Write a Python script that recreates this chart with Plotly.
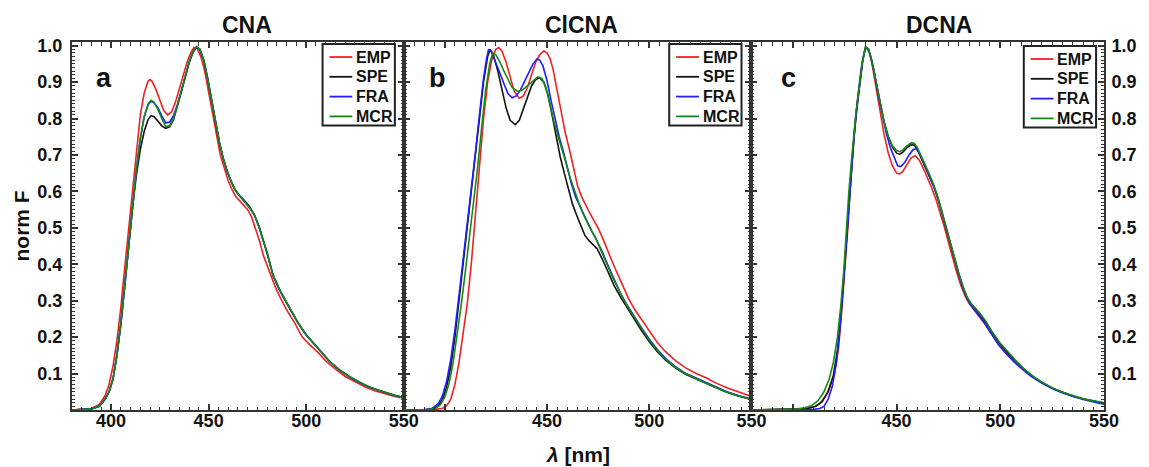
import plotly.graph_objects as go

# ---------------------------------------------------------------------------
# Normalised emission spectra (wavelength in nm, normalised fluorescence)
# ---------------------------------------------------------------------------
METHODS = ["EMP", "SPE", "FRA", "MCR"]
COLORS = {"EMP": "#ee2222", "SPE": "#111111", "FRA": "#1f1fff", "MCR": "#138a13"}
COMPOUNDS = ["CNA", "ClCNA", "DCNA"]
PANEL_LETTERS = ["a", "b", "c"]
X_TICKS = [400, 450, 500, 550]
Y_TICKS = [0.1, 0.2, 0.3, 0.4, 0.5, 0.6, 0.7, 0.8, 0.9, 1.0]

# --- CNA ---
cna_emp_wl = [380, 385, 390, 394, 397, 399, 401, 403, 405, 407, 409, 411, 413, 415, 417, 419, 420, 421, 423, 425,
              427, 429, 431, 433, 435, 437, 439, 441, 442.5, 444, 446, 448, 450, 452, 454, 456, 458, 460, 462, 464,
              466.3, 470, 472, 474, 476, 478, 481, 484, 487, 490, 494, 498, 502, 506, 510, 515, 520, 525, 530, 535,
              540, 545, 550]
cna_emp_f = [0.0, 0.001, 0.004, 0.015, 0.04, 0.07, 0.12, 0.19, 0.28, 0.39, 0.5, 0.61, 0.72, 0.81, 0.87, 0.903, 0.907,
             0.902, 0.88, 0.85, 0.822, 0.81, 0.818, 0.845, 0.88, 0.92, 0.955, 0.982, 0.995, 0.993, 0.97, 0.93, 0.87,
             0.81, 0.75, 0.7, 0.665, 0.63, 0.605, 0.585, 0.572, 0.55, 0.53, 0.5, 0.465, 0.425, 0.38, 0.34, 0.305,
             0.275, 0.24, 0.2, 0.178, 0.158, 0.135, 0.112, 0.092, 0.077, 0.064, 0.053, 0.045, 0.038, 0.032]

cna_spe_wl = [380, 385, 390, 394, 397, 399, 401, 403, 405, 407, 409, 411, 413, 415, 417, 419, 420.5, 422, 424, 426,
              428, 430, 432, 434, 436, 438, 440, 442, 443.8, 445.5, 447.5, 449.5, 451.5, 453.5, 455.5, 457.5, 459.5,
              461.5, 463.5, 465.5, 468, 471, 473.5, 476, 478, 480, 483, 486, 489, 492, 496, 500, 504, 508, 512, 517,
              522, 527, 532, 537, 542, 546, 550]
cna_spe_f = [0.0, 0.001, 0.003, 0.01, 0.03, 0.05, 0.085, 0.15, 0.235, 0.34, 0.45, 0.555, 0.645, 0.715, 0.765, 0.797,
             0.808, 0.805, 0.793, 0.78, 0.773, 0.777, 0.797, 0.832, 0.873, 0.913, 0.953, 0.982, 0.996, 0.99, 0.96,
             0.91, 0.85, 0.79, 0.735, 0.69, 0.655, 0.628, 0.605, 0.59, 0.577, 0.558, 0.535, 0.5, 0.465, 0.43, 0.37,
             0.333, 0.303, 0.274, 0.237, 0.206, 0.182, 0.159, 0.133, 0.11, 0.092, 0.077, 0.064, 0.054, 0.045,
             0.039, 0.034]

cna_fra_wl = [380, 385, 390, 394, 397, 399, 401, 403, 405, 407, 409, 411, 413, 415, 417, 419, 420.5, 422, 424, 426,
              428, 430, 432, 434, 436, 438, 440, 442, 443.8, 445.5, 447.5, 449.5, 451.5, 453.5, 455.5, 457.5, 459.5,
              461.5, 463.5, 465.5, 468, 471, 473.5, 476, 478, 480, 483, 486, 489, 492, 496, 500, 504, 508, 512, 517,
              522, 527, 532, 537, 542, 546, 550]
cna_fra_f = [0.0, 0.001, 0.003, 0.01, 0.03, 0.05, 0.085, 0.15, 0.235, 0.34, 0.45, 0.56, 0.66, 0.745, 0.805, 0.838,
             0.847, 0.843, 0.83, 0.808, 0.788, 0.79, 0.808, 0.838, 0.876, 0.915, 0.954, 0.982, 0.996, 0.99, 0.96,
             0.91, 0.85, 0.79, 0.735, 0.69, 0.655, 0.628, 0.605, 0.59, 0.575, 0.555, 0.535, 0.5, 0.465, 0.43, 0.37,
             0.333, 0.304, 0.275, 0.238, 0.206, 0.182, 0.159, 0.133, 0.11, 0.092, 0.077, 0.064, 0.054, 0.045,
             0.039, 0.034]

cna_mcr_wl = [380, 385, 390, 394, 397, 399, 401, 403, 405, 407, 409, 411, 413, 415, 417, 419, 420.5, 422, 424, 426,
              428, 430, 432, 434, 436, 438, 440, 442, 443.8, 445.5, 447.5, 449.5, 451.5, 453.5, 455.5, 457.5, 459.5,
              461.5, 463.5, 465.5, 468, 471, 473.5, 476, 478, 480, 483, 486, 489, 492, 496, 500, 504, 508, 512, 517,
              522, 527, 532, 537, 542, 546, 550]
cna_mcr_f = [0.0, 0.001, 0.003, 0.01, 0.03, 0.05, 0.085, 0.15, 0.235, 0.34, 0.45, 0.56, 0.66, 0.745, 0.805, 0.84,
             0.85, 0.845, 0.825, 0.8, 0.778, 0.78, 0.8, 0.835, 0.875, 0.915, 0.955, 0.983, 0.997, 0.99, 0.96, 0.91,
             0.85, 0.79, 0.735, 0.69, 0.655, 0.628, 0.605, 0.59, 0.575, 0.555, 0.535, 0.5, 0.465, 0.43, 0.37, 0.335,
             0.305, 0.275, 0.238, 0.207, 0.183, 0.16, 0.133, 0.11, 0.092, 0.077, 0.064, 0.054, 0.045, 0.039, 0.034]

# --- ClCNA ---
clcna_emp_wl = [380, 395, 399, 401, 403, 405, 407, 409, 411, 413, 415, 417, 419, 421, 423, 425, 426.5, 428, 430,
                432, 434, 436.5, 438.5, 440.5, 442.5, 444.5, 446.5, 448.5, 450, 451.5, 453, 455, 457, 459, 461, 463,
                465, 467, 469, 471, 473, 475, 477, 479, 481, 484, 487, 490, 493, 496, 500, 504, 508, 513, 518, 523,
                528, 533, 538, 544, 550]
clcna_emp_f = [0.0, 0.001, 0.005, 0.012, 0.03, 0.07, 0.13, 0.21, 0.29, 0.4, 0.53, 0.67, 0.8, 0.9, 0.96, 0.99, 0.995,
               0.985, 0.955, 0.915, 0.875, 0.855, 0.862, 0.885, 0.92, 0.955, 0.975, 0.985, 0.98, 0.965, 0.935, 0.875,
               0.815, 0.76, 0.715, 0.665, 0.615, 0.585, 0.56, 0.54, 0.52, 0.5, 0.475, 0.45, 0.42, 0.38, 0.34, 0.305,
               0.275, 0.25, 0.215, 0.185, 0.16, 0.135, 0.115, 0.1, 0.088, 0.073, 0.061, 0.048, 0.037]

clcna_spe_wl = [380, 392, 395, 397, 399, 401, 403, 405, 407, 409, 411, 413, 415, 417, 419, 421, 422.3, 424, 426, 428,
                430, 432, 434.5, 436.5, 438.5, 440.5, 442.5, 444.5, 446.5, 448.5, 450.5, 452.5, 454.5, 456.5, 458.5,
                460.5, 462.5, 464.5, 466.5, 468.5, 470.5, 472.5, 474.5, 477, 480, 483, 486, 489, 492, 496, 500, 504,
                508, 513, 518, 523, 528, 533, 538, 544, 550]
clcna_spe_f = [0.0, 0.001, 0.004, 0.012, 0.03, 0.065, 0.12, 0.2, 0.3, 0.4, 0.49, 0.59, 0.69, 0.8, 0.9, 0.97, 0.99,
               0.97, 0.93, 0.88, 0.83, 0.795, 0.783, 0.795, 0.825, 0.86, 0.89, 0.907, 0.912, 0.9, 0.865, 0.81, 0.75,
               0.695, 0.65, 0.605, 0.565, 0.535, 0.505, 0.48, 0.465, 0.455, 0.443, 0.415, 0.375, 0.34, 0.31, 0.283,
               0.255, 0.22, 0.188, 0.16, 0.137, 0.115, 0.097, 0.085, 0.074, 0.06, 0.049, 0.038, 0.029]

clcna_fra_wl = [380, 390, 394, 397, 399, 401, 403, 405, 407, 409, 411, 413, 415, 417, 419, 420.5, 421.5, 423, 425,
                427, 429, 431, 433, 435, 437, 439, 441, 443, 445, 446.5, 448, 450, 452, 454, 456, 458, 460, 462, 464,
                466, 468, 470, 472, 474, 477, 480, 483, 486, 489, 492, 496, 500, 504, 508, 513, 518, 523, 528, 533,
                538, 544, 550]
clcna_fra_f = [0.0, 0.001, 0.005, 0.018, 0.04, 0.08, 0.14, 0.22, 0.315, 0.41, 0.5, 0.6, 0.705, 0.81, 0.91, 0.965,
               0.99, 0.982, 0.955, 0.925, 0.895, 0.868, 0.857, 0.862, 0.878, 0.9, 0.925, 0.948, 0.963, 0.96, 0.945,
               0.905, 0.85, 0.795, 0.75, 0.71, 0.665, 0.62, 0.585, 0.56, 0.535, 0.512, 0.49, 0.47, 0.435, 0.395,
               0.355, 0.32, 0.29, 0.262, 0.228, 0.195, 0.166, 0.142, 0.118, 0.1, 0.087, 0.075, 0.061, 0.05, 0.039,
               0.03]

clcna_mcr_wl = [380, 392, 396, 398, 400, 402, 404, 406, 408, 410, 412, 414, 416, 418, 420, 422, 423.5, 425, 427, 429,
                431, 433, 435.5, 437.5, 439.5, 441.5, 443.5, 445.5, 447.5, 449.5, 451.5, 453.5, 455.5, 457.5, 459.5,
                461.5, 463.5, 465.5, 467.5, 469.5, 471.5, 473.5, 476, 479, 482, 485, 488, 491, 495, 499, 503, 507,
                512, 517, 522, 527, 532, 537, 543, 550]
clcna_mcr_f = [0.0, 0.001, 0.006, 0.015, 0.035, 0.07, 0.125, 0.2, 0.285, 0.375, 0.465, 0.56, 0.66, 0.77, 0.875, 0.95,
               0.98, 0.975, 0.955, 0.93, 0.905, 0.885, 0.875, 0.877, 0.885, 0.895, 0.906, 0.914, 0.91, 0.885, 0.84,
               0.79, 0.75, 0.715, 0.675, 0.635, 0.6, 0.57, 0.54, 0.515, 0.495, 0.475, 0.445, 0.405, 0.365, 0.33,
               0.298, 0.27, 0.235, 0.2, 0.17, 0.145, 0.12, 0.102, 0.088, 0.076, 0.062, 0.051, 0.04, 0.029]

# --- DCNA ---
dcna_emp_wl = [380, 400, 406, 410, 413, 416, 418, 420, 422, 423.5, 425, 426.5, 427.5, 428.5, 429.5, 431, 432.5, 434,
               435.2, 436.5, 438, 440, 442, 444, 446, 448, 450, 451.5, 453, 455, 457, 459, 461, 463, 465, 467, 469,
               471, 473, 475, 477, 479, 481, 483, 485, 487, 489, 492, 495, 499, 503, 507, 511, 515, 520, 525, 530,
               535, 540, 545, 550]
dcna_emp_f = [0.0, 0.001, 0.003, 0.008, 0.018, 0.04, 0.065, 0.1, 0.17, 0.27, 0.38, 0.5, 0.6, 0.68, 0.75, 0.84, 0.91,
              0.97, 0.997, 0.988, 0.955, 0.89, 0.82, 0.755, 0.705, 0.67, 0.65, 0.648, 0.655, 0.675, 0.692, 0.698,
              0.685, 0.662, 0.637, 0.608, 0.578, 0.543, 0.503, 0.46, 0.417, 0.377, 0.342, 0.313, 0.292, 0.276, 0.262,
              0.24, 0.215, 0.183, 0.158, 0.134, 0.112, 0.093, 0.075, 0.06, 0.048, 0.038, 0.03, 0.023, 0.018]

dcna_spe_wl = [380, 402, 407, 411, 414, 417, 419.5, 421.5, 423, 424.5, 426, 427.5, 429, 430.5, 432, 433.5, 435, 436.5,
               438, 440, 442, 444, 446, 448, 450, 451.5, 453, 455, 457, 458.5, 460, 462, 464, 466, 468, 470, 472, 474,
               476, 478, 480, 482, 484, 486, 488, 490, 493, 496, 500, 504, 508, 512, 516, 520, 525, 530, 535, 540,
               545, 550]
dcna_spe_f = [0.0, 0.002, 0.004, 0.01, 0.022, 0.05, 0.095, 0.165, 0.25, 0.36, 0.48, 0.61, 0.72, 0.81, 0.89, 0.955,
              0.995, 0.99, 0.96, 0.9, 0.84, 0.79, 0.75, 0.722, 0.705, 0.702, 0.708, 0.72, 0.728, 0.727, 0.715, 0.69,
              0.664, 0.64, 0.612, 0.578, 0.536, 0.492, 0.452, 0.412, 0.372, 0.336, 0.306, 0.288, 0.275, 0.263, 0.241,
              0.213, 0.181, 0.154, 0.13, 0.108, 0.09, 0.075, 0.06, 0.048, 0.038, 0.03, 0.024, 0.019]

dcna_fra_wl = [380, 405, 410, 413, 415, 417, 419, 421, 422.5, 424, 425.5, 427, 428.5, 430, 431.5, 433, 434.5, 435.5,
               437, 439, 441, 443, 445, 447, 449, 450.5, 452, 454, 456, 458, 459.5, 461, 463, 465, 467, 469, 471, 473,
               475, 477, 479, 481, 483, 485, 487, 489, 492, 495, 499, 503, 507, 511, 515, 520, 525, 530, 535, 540, 545,
               550]
dcna_fra_f = [0.0, 0.001, 0.002, 0.004, 0.01, 0.03, 0.065, 0.13, 0.21, 0.32, 0.44, 0.57, 0.69, 0.79, 0.87, 0.94,
              0.985, 0.995, 0.98, 0.935, 0.87, 0.81, 0.76, 0.72, 0.69, 0.67, 0.668, 0.68, 0.7, 0.715, 0.717, 0.705,
              0.682, 0.655, 0.628, 0.597, 0.562, 0.52, 0.476, 0.432, 0.39, 0.352, 0.32, 0.297, 0.28, 0.266, 0.243,
              0.215, 0.18, 0.153, 0.13, 0.11, 0.092, 0.074, 0.059, 0.047, 0.037, 0.029, 0.022, 0.016]

dcna_mcr_wl = [380, 395, 402, 406, 409, 412, 415, 417.5, 419.5, 421.5, 423, 424.5, 426, 427, 428, 429, 430.5, 432.3,
               433.5, 435, 436.5, 438, 440, 442, 444, 446, 448, 450, 451.5, 453, 455, 457, 458.5, 460, 462, 464, 466,
               468, 470, 472, 474, 476, 478, 480, 482, 484, 486, 488, 490, 493, 496, 500, 504, 508, 512, 516, 520, 525,
               530, 535, 540, 545, 550]
dcna_mcr_f = [0.0, 0.001, 0.003, 0.006, 0.012, 0.025, 0.05, 0.085, 0.13, 0.2, 0.28, 0.38, 0.52, 0.6, 0.67, 0.73,
              0.82, 0.9, 0.955, 0.997, 0.99, 0.96, 0.9, 0.84, 0.79, 0.75, 0.725, 0.712, 0.709, 0.714, 0.725, 0.733,
              0.732, 0.72, 0.697, 0.67, 0.645, 0.617, 0.582, 0.54, 0.496, 0.455, 0.415, 0.375, 0.34, 0.31, 0.292,
              0.279, 0.267, 0.244, 0.215, 0.183, 0.156, 0.132, 0.11, 0.092, 0.077, 0.061, 0.049, 0.039, 0.031,
              0.025, 0.02]

SPECTRA = {
    "CNA": {"EMP": (cna_emp_wl, cna_emp_f), "SPE": (cna_spe_wl, cna_spe_f),
            "FRA": (cna_fra_wl, cna_fra_f), "MCR": (cna_mcr_wl, cna_mcr_f)},
    "ClCNA": {"EMP": (clcna_emp_wl, clcna_emp_f), "SPE": (clcna_spe_wl, clcna_spe_f),
              "FRA": (clcna_fra_wl, clcna_fra_f), "MCR": (clcna_mcr_wl, clcna_mcr_f)},
    "DCNA": {"EMP": (dcna_emp_wl, dcna_emp_f), "SPE": (dcna_spe_wl, dcna_spe_f),
             "FRA": (dcna_fra_wl, dcna_fra_f), "MCR": (dcna_mcr_wl, dcna_mcr_f)},
}

# ---------------------------------------------------------------------------
# Figure geometry (pixel helpers for the paper coordinate system)
# ---------------------------------------------------------------------------
W, H = 1149, 467
ML, MR, MT, MB = 72, 35, 42, 57
PW = W - ML - MR
PH = H - MT - MB


def px_x(px):
    return (px - ML) / PW


def px_y(py):
    return (H - MB - py) / PH


X_DOMAINS = [[0.0, px_x(407)], [px_x(407), px_x(758)], [px_x(758), 1.0]]
LEGEND_RIGHT = [398, 748, 1106]
LEGEND_TOP = [44, 44, 46]
LEGEND_W, LEGEND_ROW, LEGEND_PAD = 73, 19.8, 13
TITLE_X = [px_x(249), px_x(586), px_x(947)]
LETTER_X = [px_x(104), px_x(441), px_x(795)]

FONT = "Arial, Liberation Sans, sans-serif"
AXIS_COLOR = "#333333"
TEXT_COLOR = "#111111"

fig = go.Figure()

for i, comp in enumerate(COMPOUNDS):
    sfx = "" if i == 0 else str(i + 1)
    for m in METHODS:
        wl, f = SPECTRA[comp][m]
        fig.add_trace(go.Scatter(
            x=wl, y=f, mode="lines", name=m,
            line=dict(color=COLORS[m], width=1.6),
            xaxis="x" + sfx, yaxis="y" + sfx, showlegend=False,
        ))

layout = dict(
    width=W, height=H, autosize=False,
    margin=dict(l=ML, r=MR, t=MT, b=MB, pad=0),
    paper_bgcolor="white", plot_bgcolor="white",
    font=dict(family=FONT, color=TEXT_COLOR),
    showlegend=False,
    annotations=[],
    shapes=[],
)

for i in range(3):
    sfx = "" if i == 0 else str(i + 1)
    ticktext = ["400", "450", "500", "550"] if i == 0 else ["", "450", "500", "550"]
    layout["xaxis" + sfx] = dict(
        domain=X_DOMAINS[i], anchor="y" + sfx, range=[380, 550],
        tickmode="array", tickvals=X_TICKS, ticktext=ticktext,
        ticks="inside", ticklen=6, tickwidth=1.5, tickcolor=AXIS_COLOR,
        minor=dict(tickmode="linear", dtick=5, tick0=380, ticks="inside", ticklen=3.5,
                   tickwidth=1, tickcolor=AXIS_COLOR),
        showline=True, linecolor=AXIS_COLOR, linewidth=2, mirror="allticks",
        showgrid=False, zeroline=False,
        tickfont=dict(family=FONT, size=18, weight="bold", color=TEXT_COLOR),
        ticklabelstandoff=-7,
    )
    ydict = dict(
        domain=[0, 1], anchor="x" + sfx, range=[0, 1.01],
        tickmode="array", tickvals=Y_TICKS, ticktext=[f"{v:.1f}" for v in Y_TICKS],
        ticks="inside", ticklen=6, tickwidth=1.5, tickcolor=AXIS_COLOR,
        minor=dict(tickmode="linear", dtick=0.01, tick0=0, ticks="inside", ticklen=3,
                   tickwidth=1, tickcolor=AXIS_COLOR),
        showline=True, linecolor=AXIS_COLOR, linewidth=2, mirror="allticks",
        showgrid=False, zeroline=False,
        tickfont=dict(family=FONT, size=18, weight="bold", color=TEXT_COLOR),
        ticklabelstandoff=4,
    )
    if i == 1:
        ydict["showticklabels"] = False
    if i == 2:
        ydict["side"] = "right"
        ydict["ticklabelstandoff"] = 2
    layout["yaxis" + sfx] = ydict

    # framed legend box with a line sample and label for each method
    right, top = LEGEND_RIGHT[i], LEGEND_TOP[i]
    bottom = top + 2 * LEGEND_PAD + (len(METHODS) - 1) * LEGEND_ROW - 4
    layout["shapes"].append(dict(
        type="rect", xref="paper", yref="paper",
        x0=px_x(right - LEGEND_W), x1=px_x(right), y0=px_y(bottom), y1=px_y(top),
        line=dict(color="#222222", width=2), fillcolor="white", layer="above",
    ))
    for k, m in enumerate(METHODS):
        row_y = top + LEGEND_PAD + k * LEGEND_ROW
        layout["shapes"].append(dict(
            type="line", xref="paper", yref="paper",
            x0=px_x(right - 66), x1=px_x(right - 43), y0=px_y(row_y), y1=px_y(row_y),
            line=dict(color=COLORS[m], width=1.8), layer="above",
        ))
        layout["annotations"].append(dict(
            text=m, x=px_x(right - 41), y=px_y(row_y), xref="paper", yref="paper",
            xanchor="left", yanchor="middle", showarrow=False,
            font=dict(family=FONT, size=16, weight="bold", color=TEXT_COLOR),
        ))

    layout["annotations"].append(dict(
        text=COMPOUNDS[i], x=TITLE_X[i], y=px_y(25), xref="paper", yref="paper",
        xanchor="center", yanchor="middle", showarrow=False,
        font=dict(family=FONT, size=23, weight="bold", color=TEXT_COLOR),
    ))
    layout["annotations"].append(dict(
        text=PANEL_LETTERS[i], x=LETTER_X[i], y=px_y(78), xref="paper", yref="paper",
        xanchor="center", yanchor="middle", showarrow=False,
        font=dict(family=FONT, size=27, weight="bold", color=TEXT_COLOR),
    ))

layout["annotations"].append(dict(
    text="norm F", x=px_x(21), y=0.5, xref="paper", yref="paper",
    xanchor="center", yanchor="middle", textangle=-90, showarrow=False,
    font=dict(family=FONT, size=21, weight="bold", color=TEXT_COLOR),
))
layout["annotations"].append(dict(
    text="<i>λ</i> [nm]", x=px_x(583), y=px_y(454), xref="paper", yref="paper",
    xanchor="center", yanchor="middle", showarrow=False,
    font=dict(family=FONT, size=21, weight="bold", color=TEXT_COLOR),
))

fig.update_layout(**layout)
fig.write_html("out.html")
